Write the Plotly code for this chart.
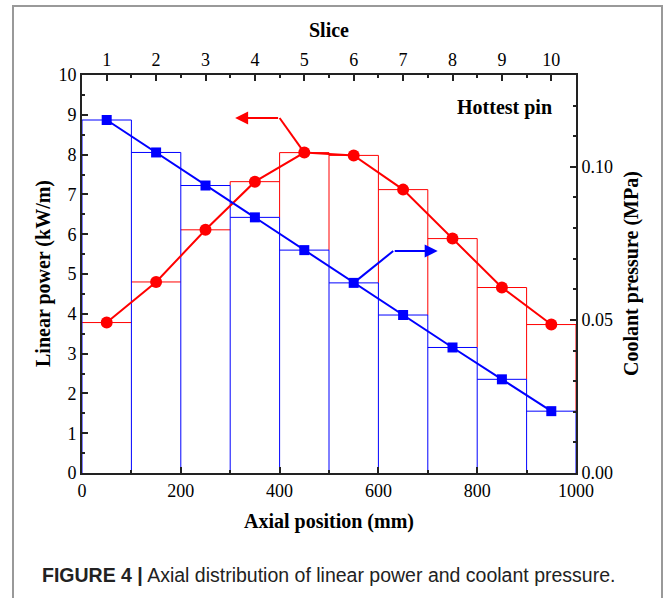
import plotly.graph_objects as go

# ---- data ----
slices = [1, 2, 3, 4, 5, 6, 7, 8, 9, 10]
axial_center_mm = [50, 150, 250, 350, 450, 550, 650, 750, 850, 950]
slice_width_mm = 100
linear_power = [3.78, 4.80, 6.11, 7.32, 8.05, 7.98, 7.12, 5.89, 4.66, 3.73]      # kW/m
coolant_pressure = [0.1153, 0.1047, 0.0939, 0.0835, 0.0728, 0.0621, 0.0516, 0.0410, 0.0306, 0.0202]  # MPa

x_ticks = [0, 200, 400, 600, 800, 1000]
y_ticks = list(range(0, 11))
p_ticks = [0.0, 0.05, 0.10]

X_MAX = 1000
Y_MAX = 10
P_MAX = 0.13

RED = "#ff0000"
BLUE = "#0000ff"
SERIF = "Liberation Serif, Times New Roman, serif"

W, H = 665, 598
ML, MR, MT, MB = 82, 89, 75, 125
PW, PH = W - ML - MR, H - MT - MB

def px(x):
    return (x - ML) / PW

def py(y):
    return (H - MB - y) / PH


n = len(axial_center_mm)
half = slice_width_mm / 2
bounds = [axial_center_mm[0] - half] + [c + half for c in axial_center_mm]
blue_in_left = [p * Y_MAX / P_MAX for p in coolant_pressure]


def adjacent(vals, k):
    lft = vals[k - 1] if k > 0 else 0
    rgt = vals[k] if k < n else 0
    return lft, rgt


def outline(values, cover=None):
    """Segments of the outlined bars; verticals drawn once, skipping parts hidden under `cover`."""
    xs, ys = [], []
    for i, v in enumerate(values):
        xs += [bounds[i], bounds[i + 1], None]
        ys += [v, v, None]
    for k, b in enumerate(bounds):
        lo = 0 if cover is None else max(adjacent(cover, k))
        hi = max(adjacent(values, k))
        if hi > lo:
            xs += [b, b, None]
            ys += [lo, hi, None]
    return xs, ys


fig = go.Figure()

rx, ry = outline(linear_power, cover=blue_in_left)
fig.add_trace(go.Scatter(x=rx, y=ry, mode="lines", line=dict(color=RED, width=1),
                         xaxis="x", yaxis="y", showlegend=False, hoverinfo="skip"))
bx, by = outline(blue_in_left)
fig.add_trace(go.Scatter(x=bx, y=by, mode="lines", line=dict(color=BLUE, width=1),
                         xaxis="x", yaxis="y", showlegend=False, hoverinfo="skip"))

# red line + circles
fig.add_trace(go.Scatter(x=axial_center_mm, y=linear_power, mode="lines+markers",
                         line=dict(color=RED, width=2),
                         marker=dict(symbol="circle", size=12, color=RED),
                         xaxis="x", yaxis="y", showlegend=False))
# blue line + squares
fig.add_trace(go.Scatter(x=axial_center_mm, y=coolant_pressure, mode="lines+markers",
                         line=dict(color=BLUE, width=2),
                         marker=dict(symbol="square", size=10, color=BLUE),
                         xaxis="x", yaxis="y2", showlegend=False))

# top axis dummy trace to activate it
fig.add_trace(go.Scatter(x=[axial_center_mm[0]], y=[linear_power[0]], mode="markers",
                         marker=dict(opacity=0), xaxis="x2", yaxis="y",
                         showlegend=False, hoverinfo="skip"))

# arrows pointing to their axes
ri = linear_power.index(max(linear_power))
red_pt = (axial_center_mm[ri], linear_power[ri])
red_corner = (red_pt[0] - 50, 8.92)
red_tip = (red_pt[0] - 140, 8.92)
fig.add_trace(go.Scatter(x=[red_pt[0], red_corner[0]], y=[red_pt[1], red_corner[1]],
                         mode="lines", line=dict(color=RED, width=2),
                         xaxis="x", yaxis="y", showlegend=False, hoverinfo="skip"))
bi = 5
blue_pt = (axial_center_mm[bi], coolant_pressure[bi])
blue_corner = (blue_pt[0] + 80, 0.0725)
blue_tip = (blue_pt[0] + 170, 0.0725)
fig.add_trace(go.Scatter(x=[blue_pt[0], blue_corner[0]], y=[blue_pt[1], blue_corner[1]],
                         mode="lines", line=dict(color=BLUE, width=2),
                         xaxis="x", yaxis="y2", showlegend=False, hoverinfo="skip"))

annotations = [
    dict(x=red_tip[0], y=red_tip[1], ax=red_corner[0], ay=red_corner[1],
         xref="x", yref="y", axref="x", ayref="y", text="", showarrow=True,
         arrowhead=2, arrowsize=1.3, arrowwidth=2, arrowcolor=RED),
    dict(x=blue_tip[0], y=blue_tip[1], ax=blue_corner[0], ay=blue_corner[1],
         xref="x", yref="y2", axref="x", ayref="y2", text="", showarrow=True,
         arrowhead=2, arrowsize=1.3, arrowwidth=2, arrowcolor=BLUE),
    dict(x=px(554), y=py(107), xref="paper", yref="paper", xanchor="right", yanchor="middle",
         text="<b>Hottest pin</b>", showarrow=False, font=dict(family=SERIF, size=20, color="black")),
    dict(x=0.5, y=py(30), xref="paper", yref="paper", xanchor="center", yanchor="middle",
         text="<b>Slice</b>", showarrow=False, font=dict(family=SERIF, size=20, color="black")),
    dict(x=0.5, y=py(521), xref="paper", yref="paper", xanchor="center", yanchor="middle",
         text="<b>Axial position (mm)</b>", showarrow=False, font=dict(family=SERIF, size=20, color="black")),
    dict(x=px(43), y=py(274), xref="paper", yref="paper", xanchor="center", yanchor="middle",
         text="<b>Linear power (kW/m)</b>", textangle=-90, showarrow=False,
         font=dict(family=SERIF, size=20, color="black")),
    dict(x=px(631), y=py(274), xref="paper", yref="paper", xanchor="center", yanchor="middle",
         text="<b>Coolant pressure (MPa)</b>", textangle=-90, showarrow=False,
         font=dict(family=SERIF, size=20, color="black")),
    dict(x=px(40), y=py(575), xref="paper", yref="paper", xanchor="left", yanchor="middle",
         text="<b>FIGURE 4 |</b> Axial distribution of linear power and coolant pressure.",
         showarrow=False, font=dict(family="Liberation Sans Narrow, Liberation Sans, Arial", size=19.5, color="#222")),
]

axis_common = dict(showline=True, linecolor="#222", linewidth=2, ticks="inside",
                   tickcolor="#222", tickwidth=1.5, ticklen=6, showgrid=False, zeroline=False,
                   tickfont=dict(family=SERIF, size=18, color="black"))

minor_common = dict(ticks="inside", ticklen=3, tickcolor="#222", tickwidth=1.5)

fig.update_layout(
    width=W, height=H, margin=dict(l=ML, r=MR, t=MT, b=MB),
    paper_bgcolor="white", plot_bgcolor="white",
    xaxis=dict(range=[0, X_MAX], tickvals=x_ticks, domain=[0, 1],
               minor=dict(dtick=100, tick0=0, **minor_common), **axis_common),
    xaxis2=dict(range=[0, X_MAX], overlaying="x", side="top", anchor="y",
                tickvals=axial_center_mm, ticktext=[str(s) for s in slices],
                minor=dict(dtick=100, tick0=0, **minor_common), **axis_common),
    yaxis=dict(range=[0, Y_MAX], tickvals=y_ticks,
               minor=dict(dtick=0.5, tick0=0, **minor_common), **axis_common),
    yaxis2=dict(range=[0, P_MAX], overlaying="y", side="right", anchor="x",
                tickvals=p_ticks, tickformat=".2f",
                minor=dict(dtick=0.01, tick0=0, **minor_common), **axis_common),
    annotations=annotations,
    shapes=[dict(type="rect", xref="paper", yref="paper",
                 x0=px(13), x1=px(662), y0=py(640), y1=py(6),
                 line=dict(color="#999", width=2), layer="below")],
)

fig.write_html("out.html")
